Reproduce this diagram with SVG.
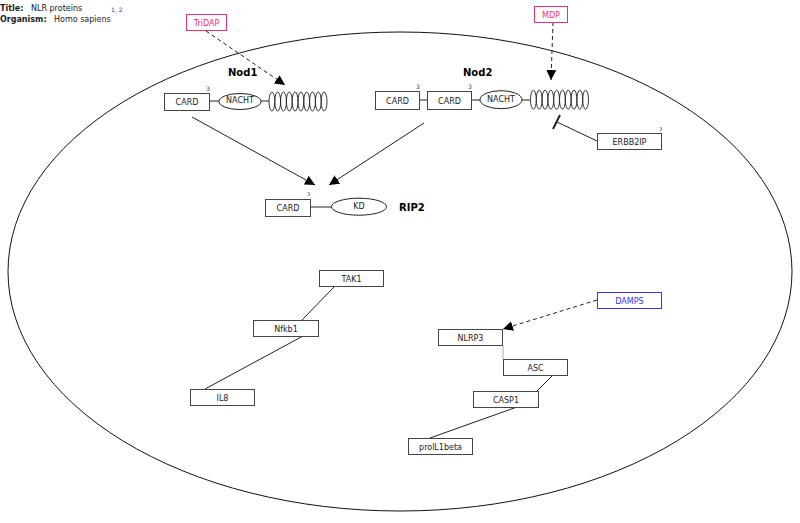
<svg xmlns="http://www.w3.org/2000/svg" width="800" height="523" viewBox="0 0 800 523">
<defs>
<style>
text{font-family:"DejaVu Sans","Liberation Sans",sans-serif;font-size:8px;fill:#222}
.b{font-weight:bold}
.lbl{font-weight:bold;font-size:10px;fill:#000}
.c{text-anchor:middle}
.sup{font-size:6px;fill:#3333cc}
.box{fill:#fff;stroke:#444;stroke-width:1}
.pink{fill:#fff;stroke:#e8336a;stroke-width:1}
.pinkt{fill:#e8336a}
.blue{fill:#fff;stroke:#3333ff;stroke-width:1}
.bluet{fill:#3333ff}
.ell{fill:#fff;stroke:#222;stroke-width:1}
.coil{fill:none;stroke:#222;stroke-width:0.9}
.ln{stroke:#222;stroke-width:1;fill:none}
.dash{stroke:#222;stroke-width:1;fill:none;stroke-dasharray:4,3}
</style>
<marker id="arr" viewBox="0 0 10 10" refX="10" refY="5" markerWidth="10" markerHeight="10" markerUnits="userSpaceOnUse" orient="auto">
<path d="M0,0 L10,5 L0,10 z" fill="#000"/>
</marker>
<g id="coil10">
<ellipse class="coil" cx="2.9" cy="0" rx="2.9" ry="9.5"/>
<ellipse class="coil" cx="8.7" cy="0" rx="2.9" ry="9.5"/>
<ellipse class="coil" cx="14.5" cy="0" rx="2.9" ry="9.5"/>
<ellipse class="coil" cx="20.3" cy="0" rx="2.9" ry="9.5"/>
<ellipse class="coil" cx="26.1" cy="0" rx="2.9" ry="9.5"/>
<ellipse class="coil" cx="31.9" cy="0" rx="2.9" ry="9.5"/>
<ellipse class="coil" cx="37.7" cy="0" rx="2.9" ry="9.5"/>
<ellipse class="coil" cx="43.5" cy="0" rx="2.9" ry="9.5"/>
<ellipse class="coil" cx="49.3" cy="0" rx="2.9" ry="9.5"/>
<ellipse class="coil" cx="55.1" cy="0" rx="2.9" ry="9.5"/>
</g>
</defs>
<rect width="800" height="523" fill="#fff"/>

<g id="header">
<text x="0" y="11" class="b" fill="#000">Title:</text>
<text x="31" y="11">NLR proteins</text>
<text x="111" y="12" class="sup">1, 2</text>
<text x="0" y="22" class="b" fill="#000">Organism:</text>
<text x="54" y="22">Homo sapiens</text>
</g>

<g id="cell">
<ellipse cx="400" cy="271.5" rx="392" ry="239.5" fill="none" stroke="#111" stroke-width="1"/>
</g>

<g id="connectors">
<line class="dash" x1="206" y1="31" x2="285" y2="85" marker-end="url(#arr)"/>
<line class="dash" x1="553" y1="22" x2="551" y2="80" marker-end="url(#arr)"/>
<line class="ln" x1="192" y1="117" x2="315" y2="185" marker-end="url(#arr)"/>
<line class="ln" x1="424" y1="123" x2="329" y2="185" marker-end="url(#arr)"/>
<line class="ln" x1="597" y1="141" x2="557" y2="122"/>
<line x1="553" y1="129" x2="560" y2="115" stroke="#222" stroke-width="2"/>
<line class="ln" x1="335" y1="286" x2="302" y2="320"/>
<line class="ln" x1="303" y1="336" x2="205" y2="389"/>
<line class="dash" x1="597" y1="300" x2="503" y2="329" marker-end="url(#arr)"/>
<line x1="503" y1="345" x2="503" y2="359" stroke="#aaa" stroke-width="1"/>
<line class="ln" x1="552" y1="376" x2="537" y2="391"/>
<line class="ln" x1="517" y1="407" x2="430" y2="438"/>
</g>

<g id="TriDAP">
<rect class="pink" x="186.5" y="14.5" width="40" height="16"/>
<text x="206.5" y="25.5" class="c pinkt">TriDAP</text>
</g>

<g id="MDP">
<rect class="pink" x="534.5" y="6.5" width="33" height="16"/>
<text x="551" y="17.5" class="c pinkt">MDP</text>
</g>

<g id="Nod1">
<text x="228" y="76" class="lbl">Nod1</text>
<line class="ln" x1="209" y1="101" x2="219" y2="101"/>
<line class="ln" x1="261" y1="101" x2="269" y2="101"/>
<rect class="box" x="164.5" y="93.5" width="45" height="17"/>
<text x="187" y="104.5" class="c">CARD</text>
<text x="206" y="91" class="sup">3</text>
<ellipse class="ell" cx="240" cy="101.5" rx="21" ry="8"/>
<text x="240" y="103" class="c">NACHT</text>
<use href="#coil10" x="269" y="101.5"/>
</g>

<g id="Nod2">
<text x="463" y="76" class="lbl">Nod2</text>
<line class="ln" x1="419" y1="100" x2="427" y2="100"/>
<line class="ln" x1="471" y1="100" x2="481" y2="100"/>
<line class="ln" x1="522" y1="100" x2="530" y2="100"/>
<rect class="box" x="375.5" y="91.5" width="44" height="18"/>
<text x="397.5" y="103.5" class="c">CARD</text>
<text x="416" y="89" class="sup">3</text>
<rect class="box" x="427.5" y="91.5" width="44" height="18"/>
<text x="449.5" y="103.5" class="c">CARD</text>
<text x="468" y="89" class="sup">3</text>
<ellipse class="ell" cx="501" cy="99.7" rx="21" ry="9"/>
<text x="501" y="101.5" class="c">NACHT</text>
<use href="#coil10" x="530.5" y="99.7"/>
</g>

<g id="ERBB2IP">
<rect class="box" x="597.5" y="133.5" width="64" height="16"/>
<text x="629.5" y="144.5" class="c">ERBB2IP</text>
<text x="659" y="131" class="sup" style="font-size:5px">3</text>
</g>

<g id="RIP2">
<line class="ln" x1="310" y1="207" x2="332" y2="207"/>
<rect class="box" x="265.5" y="199.5" width="45" height="17"/>
<text x="288" y="210.5" class="c">CARD</text>
<text x="307" y="196" class="sup" style="font-size:5px">3</text>
<ellipse class="ell" cx="359" cy="206.7" rx="27.5" ry="8.5"/>
<text x="359" y="208.5" class="c">KD</text>
<text x="399" y="211" class="lbl">RIP2</text>
</g>

<g id="TAK1">
<rect class="box" x="319.5" y="270.5" width="64" height="16"/>
<text x="351.5" y="281.5" class="c">TAK1</text>
</g>

<g id="Nfkb1">
<rect class="box" x="253.5" y="320.5" width="65" height="16"/>
<text x="286" y="331.5" class="c">Nfkb1</text>
</g>

<g id="IL8">
<rect class="box" x="190.5" y="389.5" width="64" height="16"/>
<text x="222.5" y="400.5" class="c">IL8</text>
</g>

<g id="DAMPS">
<rect class="blue" x="597.5" y="292.5" width="64" height="16"/>
<text x="629.5" y="303.5" class="c bluet">DAMPS</text>
</g>

<g id="NLRP3">
<rect class="box" x="438.5" y="329.5" width="64" height="16"/>
<text x="470.5" y="340.5" class="c">NLRP3</text>
</g>

<g id="ASC">
<rect class="box" x="503.5" y="359.5" width="64" height="16"/>
<text x="535.5" y="370.5" class="c">ASC</text>
</g>

<g id="CASP1">
<rect class="box" x="473.5" y="391.5" width="65" height="16"/>
<text x="506" y="402.5" class="c">CASP1</text>
</g>

<g id="prolL1beta">
<rect class="box" x="408.5" y="438.5" width="64" height="16"/>
<text x="440.5" y="449.5" class="c">prolL1beta</text>
</g>
</svg>
